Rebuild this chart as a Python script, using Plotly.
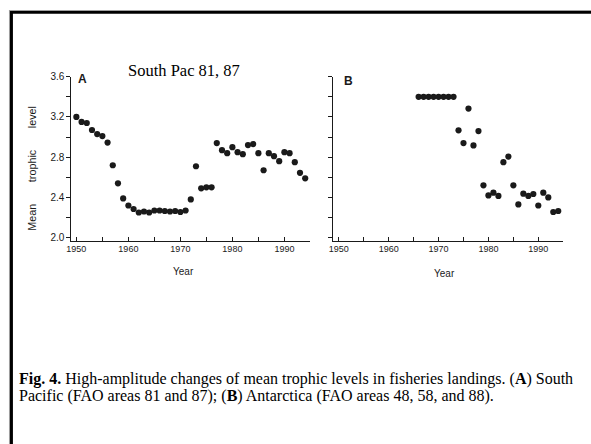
import plotly.graph_objects as go

# Mean trophic level of landings, South Pacific (FAO 81, 87)
years_a = list(range(1950, 1995))
trophic_a = [3.20, 3.15, 3.14, 3.07, 3.03, 3.01, 2.945, 2.72, 2.54, 2.39,
             2.32, 2.285, 2.25, 2.26, 2.25, 2.27, 2.27, 2.265, 2.26, 2.265,
             2.255, 2.27, 2.38, 2.71, 2.49, 2.50, 2.50, 2.94, 2.87, 2.84,
             2.90, 2.85, 2.83, 2.92, 2.93, 2.84, 2.67, 2.84, 2.81, 2.76,
             2.85, 2.84, 2.75, 2.645, 2.59]

# Mean trophic level of landings, Antarctica (FAO 48, 58, 88)
years_b = list(range(1966, 1995))
trophic_b = [3.40, 3.40, 3.40, 3.40, 3.40, 3.40, 3.40, 3.40,
             3.067, 2.94, 3.283, 2.917, 3.06, 2.52, 2.42, 2.447, 2.415,
             2.75, 2.806, 2.52, 2.33, 2.437, 2.415, 2.434, 2.32, 2.447,
             2.40, 2.255, 2.265]

y_ticks = [2.0, 2.2, 2.4, 2.6, 2.8, 3.0, 3.2, 3.4, 3.6]
y_tick_text_a = ["2.0", "", "2.4", "", "2.8", "", "3.2", "", "3.6"]
x_ticks = list(range(1950, 2000, 5))
x_tick_text = ["1950", "", "1960", "", "1970", "", "1980", "", "1990", ""]

caption_1 = ("<b>Fig. 4.</b> High-amplitude changes of mean trophic levels in fisheries "
             "landings. (<b>A</b>) South")
caption_2 = "Pacific (FAO areas 81 and 87); (<b>B</b>) Antarctica (FAO areas 48, 58, and 88)."

W, H = 591, 444


def px(x):
    return x / W


def py(y):
    return 1 - y / H


INK = "#1a1a1a"
SANS = "Liberation Sans"
SERIF = "Liberation Serif"

fig = go.Figure()
marker = dict(color=INK, size=6.2, line=dict(width=0))
fig.add_trace(go.Scatter(x=years_a, y=trophic_a, mode="markers", marker=marker,
                         xaxis="x", yaxis="y", showlegend=False))
fig.add_trace(go.Scatter(x=years_b, y=trophic_b, mode="markers", marker=marker,
                         xaxis="x2", yaxis="y2", showlegend=False))

y_dom = [py(239), py(72)]
common_x = dict(showline=True, linecolor=INK, linewidth=1, ticks="inside",
                ticklen=4, tickcolor=INK, tickvals=x_ticks, ticktext=x_tick_text,
                showgrid=False, zeroline=False,
                tickfont=dict(family=SANS, size=9, color=INK))
common_y = dict(showline=True, linecolor=INK, linewidth=1, ticks="outside",
                ticklen=4, tickcolor=INK, tickvals=y_ticks, range=[1.97, 3.6],
                showgrid=False, zeroline=False,
                tickfont=dict(family=SANS, size=10, color=INK))

fig.update_layout(
    width=W, height=H,
    margin=dict(l=0, r=0, t=0, b=0),
    paper_bgcolor="white", plot_bgcolor="white",
    xaxis=dict(domain=[px(67), px(308)], range=[1949.05, 1995], anchor="y", **common_x),
    yaxis=dict(domain=y_dom, anchor="x", ticktext=y_tick_text_a, **common_y),
    xaxis2=dict(domain=[px(331), px(563)], range=[1948.87, 1995], anchor="y2", **common_x),
    yaxis2=dict(domain=y_dom, anchor="x2", ticktext=[""] * len(y_ticks), **common_y),
)

annotations = [
    dict(text="South Pac 81, 87", x=px(181), y=py(66),
         font=dict(family=SERIF, size=16.5, color="black")),
    dict(text="<b>A</b>", x=px(78), y=py(74), font=dict(family=SANS, size=12, color=INK)),
    dict(text="<b>B</b>", x=px(346), y=py(76), font=dict(family=SANS, size=12, color=INK)),
    dict(text="Year", x=px(180), y=py(270), font=dict(family=SANS, size=10, color=INK)),
    dict(text="Year", x=px(443), y=py(272), font=dict(family=SANS, size=10, color=INK)),
    dict(text="Mean\u2003\u2003trophic\u2003\u2003level", x=px(27), y=py(165),
         textangle=-90, font=dict(family=SANS, size=10.8, color=INK)),
    dict(text=caption_1, x=px(13), y=py(379.5), xanchor="left", borderpad=0,
         font=dict(family=SERIF, size=16, color="black")),
    dict(text=caption_2, x=px(13), y=py(397.5), xanchor="left", borderpad=0,
         font=dict(family=SERIF, size=16, color="black")),
]
for a in annotations:
    a.setdefault("xanchor", "center")
    a.update(xref="paper", yref="paper", yanchor="middle", showarrow=False)
fig.update_layout(annotations=annotations)

# frame along the top and left edges of the page
shapes = [
    dict(type="rect", x0=px(4), x1=px(W + 5), y0=py(4), y1=py(5),
         fillcolor="#a0a0a0", line=dict(width=0)),
    dict(type="rect", x0=px(4), x1=px(5), y0=py(4), y1=py(H + 5),
         fillcolor="#a0a0a0", line=dict(width=0)),
    dict(type="rect", x0=px(5), x1=px(W + 5), y0=py(5), y1=py(8),
         fillcolor="black", line=dict(width=0)),
    dict(type="rect", x0=px(5), x1=px(8), y0=py(5), y1=py(H + 5),
         fillcolor="black", line=dict(width=0)),
]
for s in shapes:
    s.update(xref="paper", yref="paper", layer="above")
fig.update_layout(shapes=shapes)

fig.write_html("out.html")
